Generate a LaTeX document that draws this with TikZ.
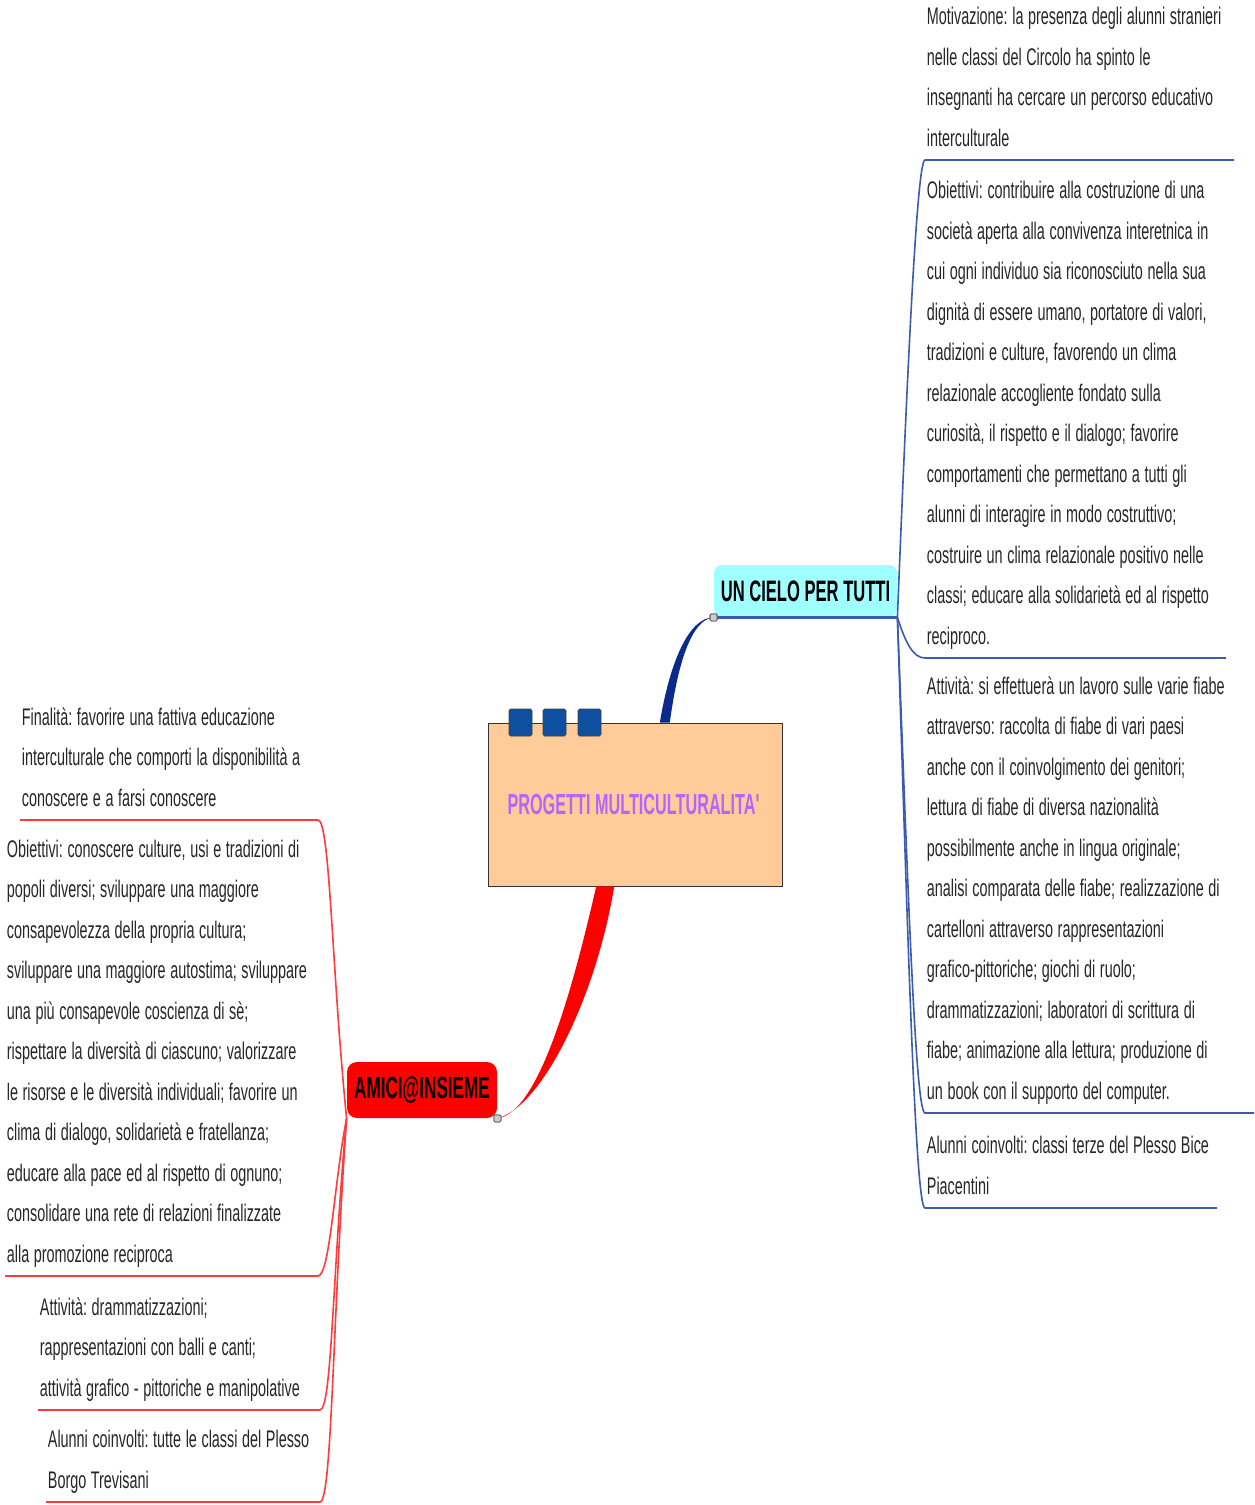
\documentclass[tikz,border=0pt]{standalone}
\usepackage{fontspec}
\newfontfamily\notefont[FakeStretch=0.6]{Liberation Sans}
\newfontfamily\titlefont[FakeStretch=0.56]{Liberation Sans}
\newcommand\notestyle{\notefont\fontsize{12}{20.25}\selectfont\fontdimen2\font=2.3pt\relax}
\newcommand\tightspaces{\spaceskip=2.3pt plus 1pt minus 0.5pt\xspaceskip=2.3pt plus 1pt\relax}
\definecolor{hubfill}{HTML}{FFCC99}
\definecolor{tabblue}{HTML}{0F4F9F}
\definecolor{skyfill}{HTML}{A0FFFF}
\definecolor{navy}{HTML}{0A2A8C}
\definecolor{lineblue}{HTML}{3A5BB0}
\definecolor{linered}{HTML}{FF3B3B}
\definecolor{titleviolet}{HTML}{B266FF}
\hyphenpenalty=10000
\frenchspacing
\setlength\parindent{0pt}
\begin{document}
\begin{tikzpicture}[x=0.5pt, y=-0.5pt,
    every node/.style={font=\notestyle, text=black!85},
    note/.style={anchor=south west, text width=185pt, inner xsep=0.75pt, inner ysep=3.75pt,
      execute at begin node={\tightspaces}, execute at end node={\rule[-3pt]{0pt}{3pt}}},
    hubbox/.style={draw=black!80, fill=hubfill, minimum width=147pt, minimum height=81.5pt, inner sep=0pt,
      font=\titlefont\bfseries\fontsize{14.5}{17}\selectfont, text=titleviolet},
    tabbox/.style={draw=black!75, fill=tabblue, minimum width=11.5pt, minimum height=13.5pt, inner sep=0pt, rounded corners=0.8pt},
    skybox/.style={fill=skyfill, rounded corners=4pt, minimum width=91.5pt, minimum height=26pt, inner sep=0pt,
      font=\titlefont\bfseries\fontsize{14.8}{17}\selectfont, text=black},
    amicibox/.style={fill=red, rounded corners=5pt, minimum width=75pt, minimum height=28pt, inner sep=0pt,
      font=\titlefont\bfseries\fontsize{15.3}{17}\selectfont, text=black},
    knob/.style={draw=black!65, fill=black!20, minimum size=3.5pt, inner sep=0pt, rounded corners=0.6pt},
    bluebranch/.style={draw=lineblue, line width=0.8pt},
    redbranch/.style={draw=linered, line width=0.8pt}]
  \useasboundingbox (0,0) rectangle (1254,1505);

  \node[hubbox] (hub) at (635,804.5) {PROGETTI MULTICULTURALITA\textquotesingle};
  \foreach \tx/\tn in {520.5/1, 554.5/2, 589.5/3}
    \node[tabbox] (tab\tn) at (\tx,722.5) {};

  \node[skybox] (cielo) at (805.5,591) {UN CIELO PER TUTTI};
  \node[amicibox] (amici) at (422,1090) {AMICI@INSIEME};
  \draw[lineblue, line width=1.2pt] (cielo.south west) -- (cielo.south east);

  \node[knob] (k1) at (cielo.south west) {};
  \node[knob] (k2) at (amici.south east) {};

  \fill[navy] ([xshift=-2.5pt]hub.70) .. controls +(10,-60) and +(-25,0) .. (k1.center)
    .. controls +(-22,2) and +(8,-60) .. ([xshift=2.5pt]hub.70) -- cycle;
  \fill[red] ([xshift=-4.5pt]hub.-110) .. controls +(-25,110) and +(40,-5) .. (k2.center)
    .. controls +(45,-12) and +(-18,110) .. ([xshift=4.5pt]hub.-110) -- cycle;
  \node[knob] at (k1) {};
  \node[knob] at (k2) {};

  % right side
  \node[note] (motiv) at (925,160)
    {Motivazione: la presenza degli alunni stranieri\\ nelle classi del Circolo ha spinto le\\
     insegnanti ha cercare un percorso educativo\\ interculturale};
  \node[note] (obR) at (925,658)
    {Obiettivi: contribuire alla costruzione di una\\ società aperta alla convivenza interetnica in\\
     cui ogni individuo sia riconosciuto nella sua\\ dignità di essere umano, portatore di valori,\\
     tradizioni e culture, favorendo un clima\\ relazionale accogliente fondato sulla\\
     curiosità, il rispetto e il dialogo; favorire\\ comportamenti che permettano a tutti gli\\
     alunni di interagire in modo costruttivo;\\ costruire un clima relazionale positivo nelle\\
     classi; educare alla solidarietà ed al rispetto\\ reciproco.};
  \node[note] (attR) at (925,1113)
    {Attività: si effettuerà un lavoro sulle varie fiabe\\ attraverso: raccolta di fiabe di vari paesi\\
     anche con il coinvolgimento dei genitori;\\ lettura di fiabe di diversa nazionalità\\
     possibilmente anche in lingua originale;\\ analisi comparata delle fiabe; realizzazione di\\
     cartelloni attraverso rappresentazioni\\ grafico-pittoriche; giochi di ruolo;\\
     drammatizzazioni; laboratori di scrittura di\\ fiabe; animazione alla lettura; produzione di\\
     un book con il supporto del computer.};
  \node[note] (aluR) at (925,1208)
    {Alunni coinvolti: classi terze del Plesso Bice\\ Piacentini};

  \draw[bluebranch] (cielo.south east) .. controls +(10,-250) and +(-8,0) .. (motiv.south west) -- +(309,0);
  \draw[bluebranch] (cielo.south east) .. controls +(8,25) and +(-12,0) .. (obR.south west) -- +(301,0);
  \draw[bluebranch] (cielo.south east) .. controls +(10,250) and +(-10,0) .. (attR.south west) -- +(329,0);
  \draw[bluebranch] (cielo.south east) .. controls +(10,300) and +(-10,0) .. (aluR.south west) -- +(292,0);

  % left side
  \node[note] (final) at (20,820)
    {Finalità: favorire una fattiva educazione\\ interculturale che comporti la disponibilità a\\
     conoscere e a farsi conoscere};
  \node[note] (obL) at (5,1276)
    {Obiettivi: conoscere culture, usi e tradizioni di\\ popoli diversi; sviluppare una maggiore\\
     consapevolezza della propria cultura;\\ sviluppare una maggiore autostima; sviluppare\\
     una più consapevole coscienza di sè;\\ rispettare la diversità di ciascuno; valorizzare\\
     le risorse e le diversità individuali; favorire un\\ clima di dialogo, solidarietà e fratellanza;\\
     educare alla pace ed al rispetto di ognuno;\\ consolidare una rete di relazioni finalizzate\\
     alla promozione reciproca};
  \node[note] (attL) at (38,1410)
    {Attività: drammatizzazioni;\\ rappresentazioni con balli e canti;\\
     attività grafico - pittoriche e manipolative};
  \node[note] (aluL) at (46,1502)
    {Alunni coinvolti: tutte le classi del Plesso\\ Borgo Trevisani};

  \coordinate (final-end) at ([xshift=149pt]final.south west);
  \coordinate (obL-end) at ([xshift=156.5pt]obL.south west);
  \coordinate (attL-end) at ([xshift=141pt]attL.south west);
  \coordinate (aluL-end) at ([xshift=137pt]aluL.south west);

  \draw[redbranch] (amici.south west) .. controls +(-15,-150) and +(12,0) .. (final-end) -- (final.south west);
  \draw[redbranch] (amici.south west) .. controls +(-12,60) and +(12,0) .. (obL-end) -- (obL.south west);
  \draw[redbranch] (amici.south west) .. controls +(-14,150) and +(12,0) .. (attL-end) -- (attL.south west);
  \draw[redbranch] (amici.south west) .. controls +(-14,200) and +(12,0) .. (aluL-end) -- (aluL.south west);
\end{tikzpicture}
\end{document}
